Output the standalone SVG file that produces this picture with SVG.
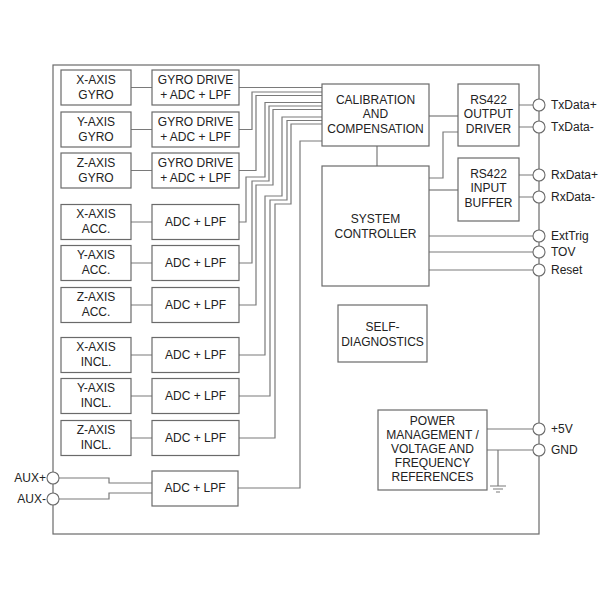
<svg xmlns="http://www.w3.org/2000/svg" width="600" height="600" viewBox="0 0 600 600">
<style>
.b{fill:#fff;stroke:#6a6a6a;stroke-width:1.2}
.w{fill:none;stroke:#7a7a7a;stroke-width:1.2}
.c{fill:#fff;stroke:#6a6a6a;stroke-width:1.1}
text{font-family:"Liberation Sans",Arial,sans-serif;font-size:12px;fill:#222}
.m{text-anchor:middle}
</style>
<rect width="600" height="600" fill="#fff"/>
<rect id="frame" x="53" y="65" width="486" height="469" fill="none" stroke="#6a6a6a" stroke-width="1.2"/>
<g id="connectors">
<path class="w" d="M131,87.5H152M131,129.5H152M131,170.5H152M131,222H152M131,263H152M131,305H152M131,355H152M131,396H152M131,438H152"/>
<path class="w" d="M239,87.5H322"/>
<path class="w" d="M239,129.5H252V92H322"/>
<path class="w" d="M239,170.5H256V95.5H322"/>
<path class="w" d="M239,222H246V177H265V102.5H322"/>
<path class="w" d="M239,263H252V181H269V106H322"/>
<path class="w" d="M239,305H256V185H273V109.5H322"/>
<path class="w" d="M239,355H265V196H282V117H322"/>
<path class="w" d="M239,396H270V200H287V120.5H322"/>
<path class="w" d="M239,438H275V204H291V124H322"/>
<path class="w" d="M238,488H300V141H322"/>
<path class="w" d="M58,478H109V483H152M58,499H109V493H152"/>
<path class="w" d="M377,146V166"/>
<path class="w" d="M429,116H458"/>
<path class="w" d="M429,178H443V132H458"/>
<path class="w" d="M429,190H458"/>
<path class="w" d="M519,105H533M519,127H533M519,175H533M519,197H533"/>
<path class="w" d="M429,236H533M429,252H533M429,270H533"/>
<path class="w" d="M487,429H533M487,450H533"/>
<path class="w" d="M498,450V486M490,486H506M493,489H503M496,492H500"/>
</g>
<g id="ports">
<circle class="c" cx="539" cy="105" r="6"/><text x="551" y="109">TxData+</text>
<circle class="c" cx="539" cy="127" r="6"/><text x="551" y="131">TxData-</text>
<circle class="c" cx="539" cy="175" r="6"/><text x="551" y="179">RxData+</text>
<circle class="c" cx="539" cy="197" r="6"/><text x="551" y="201">RxData-</text>
<circle class="c" cx="539" cy="236" r="6"/><text x="551" y="240">ExtTrig</text>
<circle class="c" cx="539" cy="252" r="6"/><text x="551" y="256">TOV</text>
<circle class="c" cx="539" cy="270" r="6"/><text x="551" y="274">Reset</text>
<circle class="c" cx="539" cy="429" r="6"/><text x="551" y="433">+5V</text>
<circle class="c" cx="539" cy="450" r="6"/><text x="551" y="454">GND</text>
<circle class="c" cx="53" cy="478" r="6"/><text x="46" y="482" text-anchor="end">AUX+</text>
<circle class="c" cx="53" cy="499" r="6"/><text x="46" y="503" text-anchor="end">AUX-</text>
</g>
<g id="xgyro"><rect class="b" x="61" y="70" width="70" height="35"/><text class="m" x="96" y="84">X-AXIS</text><text class="m" x="96" y="99">GYRO</text></g>
<g id="ygyro"><rect class="b" x="61" y="112" width="70" height="35"/><text class="m" x="96" y="126">Y-AXIS</text><text class="m" x="96" y="141">GYRO</text></g>
<g id="zgyro"><rect class="b" x="61" y="153" width="70" height="35"/><text class="m" x="96" y="167">Z-AXIS</text><text class="m" x="96" y="182">GYRO</text></g>
<g id="xacc"><rect class="b" x="61" y="204.5" width="70" height="35"/><text class="m" x="96" y="218">X-AXIS</text><text class="m" x="96" y="233">ACC.</text></g>
<g id="yacc"><rect class="b" x="61" y="245.5" width="70" height="35"/><text class="m" x="96" y="259">Y-AXIS</text><text class="m" x="96" y="274">ACC.</text></g>
<g id="zacc"><rect class="b" x="61" y="287.5" width="70" height="35"/><text class="m" x="96" y="301">Z-AXIS</text><text class="m" x="96" y="316">ACC.</text></g>
<g id="xincl"><rect class="b" x="61" y="337.5" width="70" height="35"/><text class="m" x="96" y="351">X-AXIS</text><text class="m" x="96" y="366">INCL.</text></g>
<g id="yincl"><rect class="b" x="61" y="378.5" width="70" height="35"/><text class="m" x="96" y="392">Y-AXIS</text><text class="m" x="96" y="407">INCL.</text></g>
<g id="zincl"><rect class="b" x="61" y="420.5" width="70" height="35"/><text class="m" x="96" y="434">Z-AXIS</text><text class="m" x="96" y="449">INCL.</text></g>
<g id="gd1"><rect class="b" x="152" y="70" width="87" height="35"/><text class="m" x="195.5" y="84">GYRO DRIVE</text><text class="m" x="195.5" y="99">+ ADC + LPF</text></g>
<g id="gd2"><rect class="b" x="152" y="112" width="87" height="35"/><text class="m" x="195.5" y="126">GYRO DRIVE</text><text class="m" x="195.5" y="141">+ ADC + LPF</text></g>
<g id="gd3"><rect class="b" x="152" y="153" width="87" height="35"/><text class="m" x="195.5" y="167">GYRO DRIVE</text><text class="m" x="195.5" y="182">+ ADC + LPF</text></g>
<g id="adc1"><rect class="b" x="152" y="204.5" width="87" height="35"/><text class="m" x="195.5" y="226">ADC + LPF</text></g>
<g id="adc2"><rect class="b" x="152" y="245.5" width="87" height="35"/><text class="m" x="195.5" y="267">ADC + LPF</text></g>
<g id="adc3"><rect class="b" x="152" y="287.5" width="87" height="35"/><text class="m" x="195.5" y="309">ADC + LPF</text></g>
<g id="adc4"><rect class="b" x="152" y="337.5" width="87" height="35"/><text class="m" x="195.5" y="359">ADC + LPF</text></g>
<g id="adc5"><rect class="b" x="152" y="378.5" width="87" height="35"/><text class="m" x="195.5" y="400">ADC + LPF</text></g>
<g id="adc6"><rect class="b" x="152" y="420.5" width="87" height="35"/><text class="m" x="195.5" y="442">ADC + LPF</text></g>
<g id="adcaux"><rect class="b" x="152" y="471" width="86" height="35"/><text class="m" x="195" y="492">ADC + LPF</text></g>
<g id="cal"><rect class="b" x="322" y="84" width="107" height="62"/><text class="m" x="375.5" y="104">CALIBRATION</text><text class="m" x="375.5" y="118">AND</text><text class="m" x="375.5" y="133">COMPENSATION</text></g>
<g id="sys"><rect class="b" x="322" y="166" width="107" height="120"/><text class="m" x="375.5" y="223">SYSTEM</text><text class="m" x="375.5" y="238">CONTROLLER</text></g>
<g id="out"><rect class="b" x="458" y="84" width="61" height="62"/><text class="m" x="488.5" y="104">RS422</text><text class="m" x="488.5" y="118">OUTPUT</text><text class="m" x="488.5" y="133">DRIVER</text></g>
<g id="in"><rect class="b" x="458" y="158" width="61" height="63"/><text class="m" x="488.5" y="178">RS422</text><text class="m" x="488.5" y="192">INPUT</text><text class="m" x="488.5" y="207">BUFFER</text></g>
<g id="diag"><rect class="b" x="338" y="305" width="89" height="57"/><text class="m" x="382.5" y="331">SELF-</text><text class="m" x="382.5" y="346">DIAGNOSTICS</text></g>
<g id="power"><rect class="b" x="378" y="410" width="109" height="80"/><text class="m" x="432.5" y="425">POWER</text><text class="m" x="432.5" y="439">MANAGEMENT /</text><text class="m" x="432.5" y="453">VOLTAGE AND</text><text class="m" x="432.5" y="467">FREQUENCY</text><text class="m" x="432.5" y="481">REFERENCES</text></g>
</svg>
